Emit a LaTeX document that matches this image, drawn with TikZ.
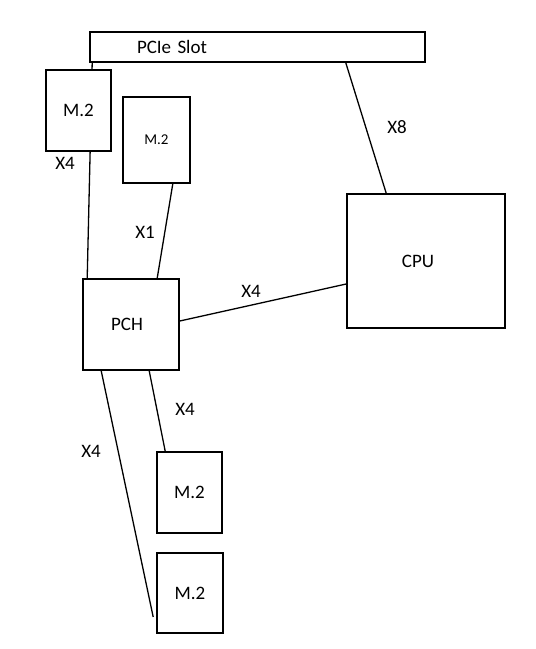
\documentclass[tikz,border=0pt]{standalone}
\usepackage{fontspec}
\setmainfont{Carlito}

\tikzset{
  box/.style={draw, rectangle, line width=1.6pt, fill=white, inner sep=0pt},
  link/.style={draw, line width=1.3pt},
  lanes/.style={inner sep=0pt}
}

\begin{document}
\begin{tikzpicture}[x=1pt, y=-1pt, font=\fontsize{19}{22}\selectfont]

  \useasboundingbox (0,0) rectangle (536,649);

  % --- Slot and CPU ---
  \node[box, minimum height=30pt, inner xsep=47pt, text width=241pt, align=left] (slot) at (257.5,47) {PCIe Slot};
  \node[box, minimum width=158pt, minimum height=134pt] (cpu) at (426,261) {\hspace*{-16pt}CPU};

  % --- PCH ---
  \node[box, minimum width=96pt, minimum height=91pt] (pch) at (131,324.5) {\hspace*{-8pt}PCH};

  % --- links behind the boxes ---
  \draw[link] ([xshift=3pt]slot.south west) -- ([xshift=5pt]pch.north west);

  % --- M.2 drives ---
  \node[box, minimum width=65pt, minimum height=81pt] (m2a) at (78.5,110.5) {M.2};
  \node[box, minimum width=67pt, minimum height=86pt, font=\fontsize{15}{18}\selectfont] (m2b) at (156.5,140) {M.2};
  \node[box, minimum width=65pt, minimum height=81pt] (m2c) at (189.5,492.5) {M.2};
  \node[box, minimum width=66pt, minimum height=80pt] (m2d) at (190,593) {M.2};

  % --- links ---
  \draw[link] ([xshift=-18pt]m2b.south east) -- ([xshift=75pt]pch.north west);
  \draw[link] ([xshift=-80pt]slot.south east) -- ([xshift=40pt]cpu.north west);
  \draw[link] ([yshift=3.5pt]pch.east) -- ([yshift=-23pt]cpu.west);
  \draw[link] ([xshift=67pt]pch.south west) -- ([xshift=9pt]m2c.north west);
  \draw[link] ([xshift=19pt]pch.south west) -- ([xshift=-3pt,yshift=-24pt]m2d.west);

  % --- lane labels ---
  \node[lanes] (xa) at (65,163) {X4};
  \node[lanes] (xb) at (145,232) {X1};
  \node[lanes] (xc) at (397,127) {X8};
  \node[lanes] (xd) at (251,291) {X4};
  \node[lanes] (xe) at (185,409) {X4};
  \node[lanes] (xf) at (91,451) {X4};

\end{tikzpicture}
\end{document}
